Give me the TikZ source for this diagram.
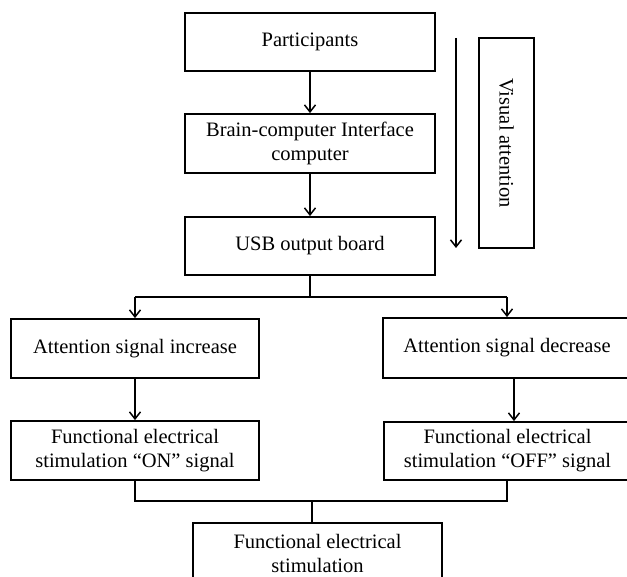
\documentclass[tikz,border=0pt]{standalone}
\usepackage{fontspec}
\setmainfont{Liberation Serif}
\usetikzlibrary{arrows.meta}

\tikzset{
    box/.style={draw, line width=1.8pt, align=center, inner sep=0pt,
        font=\fontsize{20.5}{24}\selectfont},
    link/.style={line width=1.3pt, -{Straight Barb[length=7pt,width=11pt,line width=1.5pt]}},
    bus/.style={line width=2.5pt}
}

\begin{document}
\begin{tikzpicture}[x=1pt, y=-1pt]

\useasboundingbox (0,0) rectangle (627,577);
\clip (0,0) rectangle (627,577);

% Top column
\node[box, minimum width=250pt, minimum height=58pt] (part) at (310,42) {Participants};
\node[box, minimum width=250pt, minimum height=59pt] (bci) at (310,143.5) {Brain-computer Interface\\computer};
\node[box, minimum width=250pt, minimum height=58pt] (usb) at (310,246) {USB output board};

% Visual attention
\node[box, minimum width=210pt, minimum height=55pt, rotate=-90] (vis) at (506.5,143) {Visual attention};
\coordinate (vtop) at (456,38);
\coordinate (vbot) at (456,248);

% Branches
\node[box, minimum width=248pt, minimum height=59pt] (inc) at (135,348.5) {Attention signal increase};
\node[box, minimum width=248pt, minimum height=60pt] (dec) at (507,348) {Attention signal decrease};
\node[box, minimum width=248pt, minimum height=59pt] (on) at (135,450.5) {Functional electrical\\stimulation ``ON'' signal};
\node[box, minimum width=247pt, minimum height=58pt] (off) at (507.5,451) {Functional electrical\\stimulation ``OFF'' signal};

% Output
\node[box, minimum width=249pt, minimum height=61pt] (fes) at (317.5,553.5) {Functional electrical\\stimulation};

% Arrows
\draw[link] (part) -- (bci);
\draw[link] (bci) -- (usb);
\draw[link] (vtop) -- (vbot);
\draw[link] (inc) -- (on);
\draw[link] ([xshift=7pt]dec.south) -- ([xshift=7pt]dec.south |- off.north);

% Split
\draw[bus] (usb.south) -- (310,297) coordinate (split);
\draw[bus] (inc.north |- split) -- (dec.north |- split);
\draw[link] (inc.north |- split) -- (inc.north);
\draw[link] (dec.north |- split) -- (dec.north);

% Merge
\draw[bus] (on.south) |- (312,501) coordinate (merge);
\draw[bus] ([xshift=-0.5pt]off.south) |- (merge);
\draw[line width=1.5pt] (merge) -- (merge |- fes.north);

\end{tikzpicture}
\end{document}
